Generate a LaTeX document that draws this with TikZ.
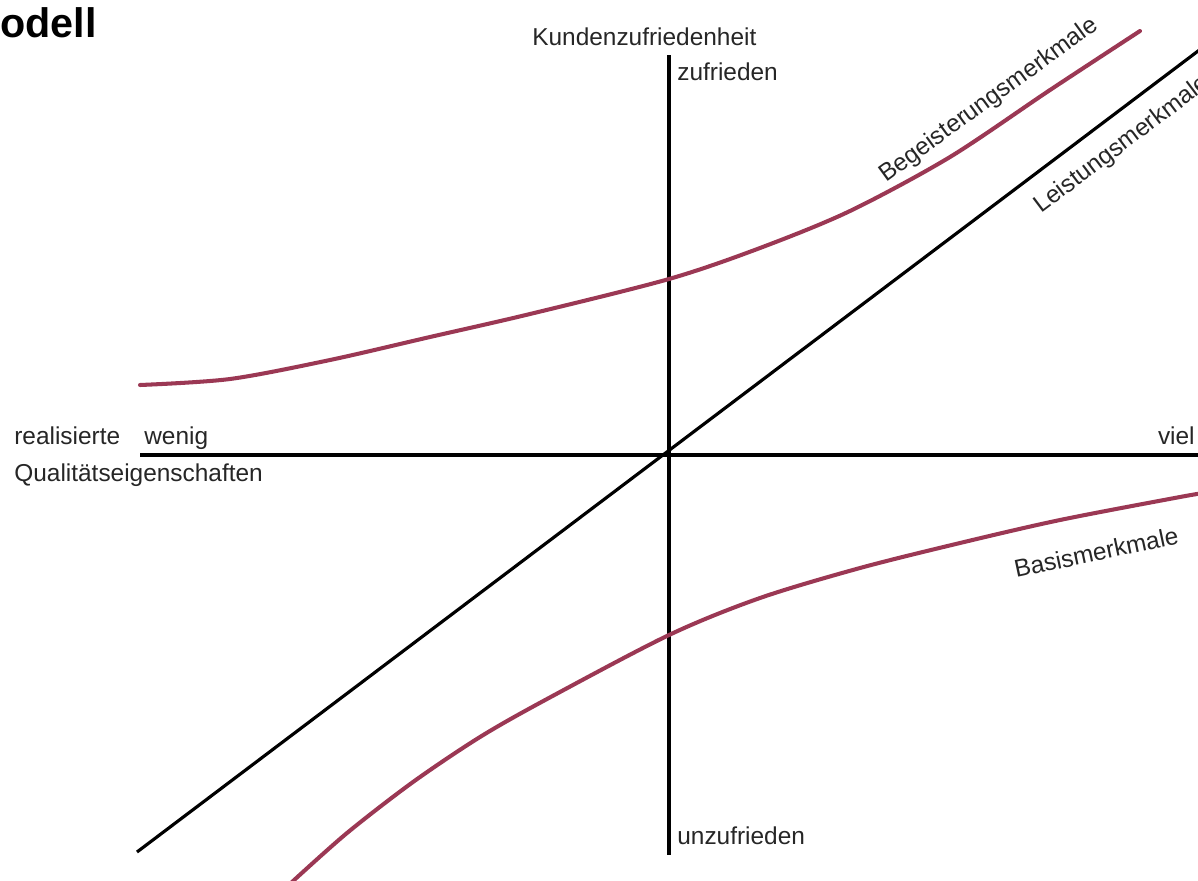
\documentclass[tikz,border=0pt]{standalone}
\usepackage{fontspec}
\setmainfont{Liberation Sans}
\definecolor{curvecol}{RGB}{155,56,84}
\begin{document}
\begin{tikzpicture}[x=0.02cm,y=-0.02cm,
  lbl/.style={inner sep=0pt,font=\fontsize{13.9}{16}\selectfont,text=black!85},
  axis/.style={line width=2.4pt,line cap=butt},
  kurve/.style={draw=curvecol,line width=2.3pt,line cap=round},
  diag/.style={line width=1.8pt}]
\useasboundingbox (0,0) rectangle (1198,880);
\clip (0,0) rectangle (1198,880);
% axes
\coordinate (ytop) at (669,55);
\coordinate (ybot) at (669,855);
\coordinate (xl) at (140,455);
\coordinate (xr) at (1200,455);
\draw[axis] (ytop) -- (ybot);
\draw[axis] (xl) -- (xr);
% Leistungsmerkmale line
\coordinate (ll) at (137,852);
\coordinate (lr) at (1210,42);
\draw[diag] (ll) -- (lr);
% Begeisterungsmerkmale curve
\draw[kurve] plot[smooth] coordinates {(140,385) (230,379) (330,360) (430,337) (530,314) (669,279) (760,248) (850,211) (950,157) (1050,90) (1140,31)};
% Basismerkmale curve
\draw[kurve] plot[smooth] coordinates {(292,882) (347,833) (413,782) (480,737) (547,699) (669,635) (760,598) (860,568) (960,543) (1060,520) (1180,497) (1210,492)};
% labels
\node[inner sep=0pt,anchor=base west,font=\fontsize{23.5}{26}\selectfont\bfseries] (title) at (0,37) {odell};
\node[lbl,anchor=base west] (kz) at (532,45) {Kundenzufriedenheit};
\node[lbl,anchor=base west] (zuf) at (677,80) {zufrieden};
\node[lbl,anchor=base west] (unzuf) at (677,844) {unzufrieden};
\node[lbl,anchor=base west] (real) at (14,444) {realisierte};
\node[lbl,anchor=base west] (wenig) at (144,444) {wenig};
\node[lbl,anchor=base west] (qual) at (14,481) {Qualitätseigenschaften};
\node[lbl,anchor=base east] (viel) at (1195,444) {viel};
\node[lbl,anchor=base west,rotate=36] (beg) at (886,183) {Begeisterungsmerkmale};
\node[lbl,anchor=base west,rotate=37] (leist) at (1041,214) {Leistungsmerkmale};
\node[lbl,anchor=base west,rotate=12] (basis) at (1016,578) {Basismerkmale};
\end{tikzpicture}
\end{document}
